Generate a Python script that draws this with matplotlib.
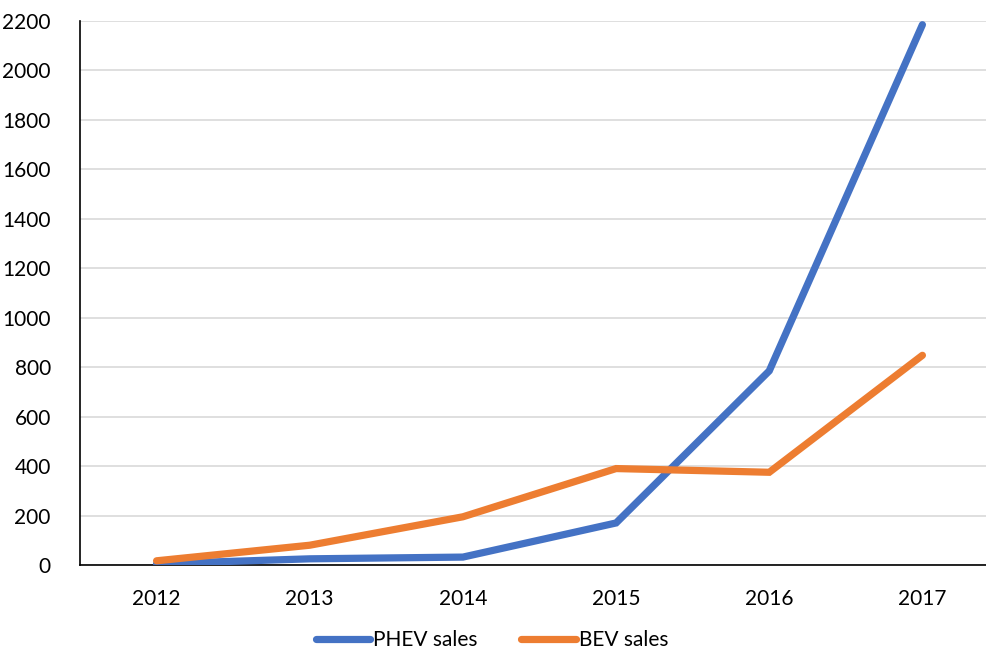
import matplotlib
matplotlib.use('Agg')
import matplotlib.pyplot as plt

# Data
years = ['2012', '2013', '2014', '2015', '2016', '2017']
phev_sales = [5, 25, 32, 170, 785, 2185]
bev_sales = [17, 80, 195, 390, 375, 848]
y_ticks = list(range(0, 2201, 200))

BLUE = '#4472C4'
ORANGE = '#ED7D31'

plt.rcParams['font.family'] = ['Lato', 'DejaVu Sans']

W, H = 986, 652
fig = plt.figure(figsize=(W / 100, H / 100), dpi=100)
# plot area runs past the right edge of the picture, as in the reference
left, right, top, bottom = 80, 999, 21, 565
ax = fig.add_axes([left / W, 1 - bottom / H, (right - left) / W, (bottom - top) / H])

x = list(range(len(years)))
ax.plot(x, phev_sales, color=BLUE, lw=5.2, solid_capstyle='round',
        solid_joinstyle='miter', label='PHEV sales', zorder=3)
ax.plot(x, bev_sales, color=ORANGE, lw=5.2, solid_capstyle='round',
        solid_joinstyle='miter', label='BEV sales', zorder=3)

ax.set_xlim(-0.5, len(years) - 0.5)
ax.set_ylim(0, 2200)
ax.set_xticks(x)
ax.set_xticklabels(years)
ax.set_yticks(y_ticks)
ax.tick_params(axis='both', length=0, labelsize=15, colors='black')
ax.tick_params(axis='y', pad=21)
ax.tick_params(axis='x', pad=17)

ax.grid(axis='y', color='#D9D9D9', lw=1.2)
ax.set_axisbelow(True)
for s in ['top', 'right']:
    ax.spines[s].set_visible(False)
ax.spines['left'].set_color('black')
ax.spines['bottom'].set_color('black')
ax.spines['left'].set_linewidth(1.2)
ax.spines['bottom'].set_linewidth(1.2)
ax.spines['bottom'].set_zorder(2)

fig.legend(loc='center', bbox_to_anchor=(492 / W, 1 - 640 / H), ncol=2,
           frameon=False, fontsize=15, handlelength=2.6, handletextpad=0.15,
           columnspacing=2.1)

fig.savefig('out.png', dpi=100)
